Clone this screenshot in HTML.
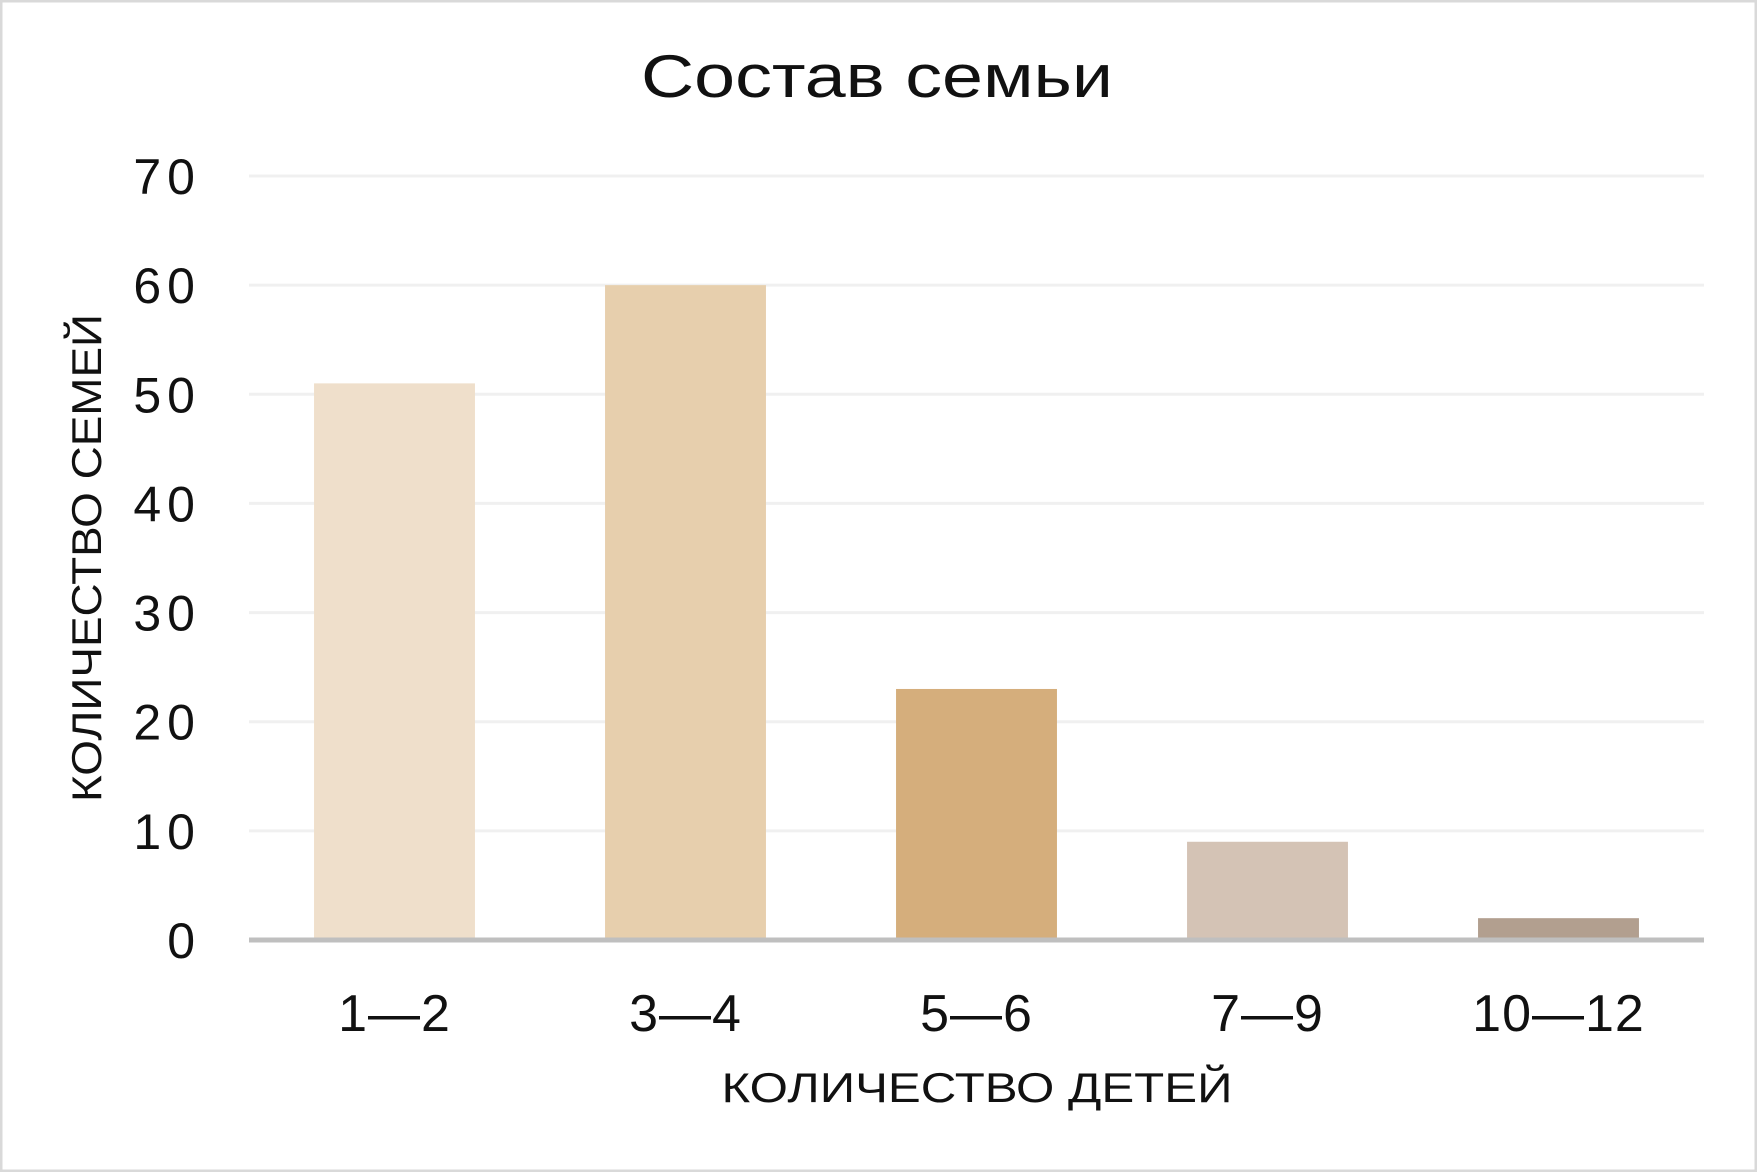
<!DOCTYPE html>
<html><head><meta charset="utf-8"><style>
html,body{margin:0;padding:0;background:#fff}
svg{display:block}
</style></head><body>
<svg id="chart" width="1757" height="1172" viewBox="0 0 1757 1172" xmlns="http://www.w3.org/2000/svg">
<rect x="1" y="1" width="1755" height="1170" fill="#fff" stroke="#d9d9d9" stroke-width="3"/>
<text x="877" y="97" text-anchor="middle" font-family="Liberation Sans, sans-serif" font-size="60" textLength="472" lengthAdjust="spacingAndGlyphs" fill="#111">Состав семьи</text>
<g id="grid"></g>
<g id="bars"></g>
<g id="yticks"></g>
<g id="xticks"></g>
<line x1="249" y1="940" x2="1704" y2="940" stroke="#bfbfbf" stroke-width="5"/>
<text transform="translate(101,558) rotate(-90)" text-anchor="middle" font-family="Liberation Sans, sans-serif" font-size="42" textLength="488" lengthAdjust="spacingAndGlyphs" fill="#111">КОЛИЧЕСТВО СЕМЕЙ</text>
<text x="977" y="1102" text-anchor="middle" font-family="Liberation Sans, sans-serif" font-size="42" textLength="511" lengthAdjust="spacingAndGlyphs" fill="#111">КОЛИЧЕСТВО ДЕТЕЙ</text>
</svg>
<script>
const categories = ["1—2","3—4","5—6","7—9","10—12"];
const values = [51,60,23,9,2];
const colors = ["#efdfcb","#e7cfad","#d5ae7c","#d4c3b5","#b29f8f"];
const yTicks = [0,10,20,30,40,50,60,70];

const NS="http://www.w3.org/2000/svg";
const x0=249,x1=1704,yBase=940,yTop=176,yMax=70;
const y=v=>yBase-(v/yMax)*(yBase-yTop);
const band=(x1-x0)/categories.length;
const xc=i=>x0+band*(i+0.5);
const bw=band*0.553;
function mk(tag,attrs,parent){const e=document.createElementNS(NS,tag);for(const k in attrs)e.setAttribute(k,attrs[k]);document.getElementById(parent).appendChild(e);return e;}
yTicks.forEach(t=>{
  if(t>0){
    const g=mk('line',{x1:x0,x2:x1,y1:y(t),y2:y(t),stroke:'#f0f0f0','stroke-width':3},'grid');
    
    
  }
  const l=mk('text',{x:201,y:y(t)+18,'text-anchor':'end','font-family':'Liberation Sans, sans-serif','font-size':50,'letter-spacing':6,fill:'#111'},'yticks');
  l.textContent=t;
  
  
});
categories.forEach((c,i)=>{
  const b=mk('rect',{x:xc(i)-bw/2,y:y(values[i]),width:bw,height:yBase-y(values[i]),fill:colors[i]},'bars');
  
  
  const l=mk('text',{x:xc(i),y:1031,'text-anchor':'middle','font-family':'Liberation Sans, sans-serif','font-size':52,'letter-spacing':1,fill:'#111'},'xticks');
  l.textContent=c;
  
  
});
</script>
</body></html>
